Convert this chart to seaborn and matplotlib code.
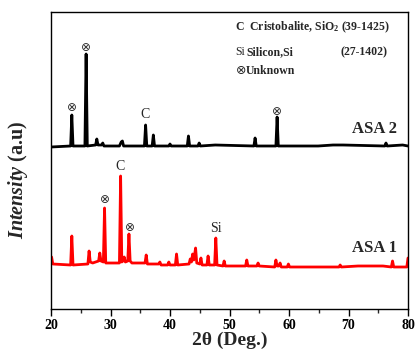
import matplotlib
matplotlib.use("Agg")
import matplotlib.pyplot as plt
import seaborn as sns
import pandas as pd

# ASA 2 (black) pattern vertices: 2theta, intensity (a.u., arbitrary offset scale)
asa2_x = [20.0, 23.3, 23.5, 23.7, 25.7, 25.9, 26.1, 27.5, 27.7, 27.9, 28.5, 28.7, 28.9,
          29.5, 31.5, 31.8, 32.0, 32.2, 35.7, 35.9, 36.1, 37.0, 37.2, 37.4, 39.8, 40.0,
          40.2, 42.9, 43.1, 43.3, 44.7, 44.9, 45.1, 47.6, 54.1, 54.3, 54.5, 57.8, 58.0,
          58.2, 64.9, 67.4, 69.1, 76.1, 76.3, 76.5, 79.1, 80.0]
asa2_y = [162, 163, 194, 163, 163, 255, 163, 164, 170, 164, 164, 166, 163,
          163, 163, 167, 168, 163, 163, 184, 163, 163, 174, 163, 163, 165,
          163, 163, 173, 163, 163, 166, 163, 164, 163, 171, 163, 163, 192,
          163, 163, 164, 164, 163, 166, 163, 164, 163]

# ASA 1 (red) pattern vertices
asa1_x = [20.0, 20.1, 20.3, 23.3, 23.5, 23.7, 26.2, 26.4, 26.6, 27.0, 28.0, 28.2, 28.4,
          28.8, 29.0, 29.2, 31.5, 31.7, 31.9, 32.1, 32.3, 32.5, 32.9, 33.1, 33.3, 33.6,
          35.8, 36.0, 36.2, 38.1, 38.3, 38.5, 39.6, 39.8, 40.0, 40.9, 41.1, 41.3, 43.2,
          43.4, 43.6, 43.8, 44.0, 44.3, 44.5, 45.0, 45.2, 45.4, 46.2, 46.4, 46.6, 47.5,
          47.7, 47.9, 48.9, 49.1, 49.3, 52.7, 52.9, 53.1, 54.6, 54.8, 55.0, 57.6, 57.8,
          58.0, 58.3, 58.5, 58.7, 59.7, 59.9, 60.1, 68.4, 68.6, 68.8, 71.6, 74.1, 75.8,
          77.2, 77.4, 77.6, 79.8, 80.0]
asa1_y = [49, 52, 45, 44, 73, 44, 45, 58, 47, 46, 48, 56, 48,
          47, 101, 46, 46, 133, 47, 48, 52, 47, 48, 75, 48, 46,
          46, 54, 45, 45, 47, 44, 44, 47, 44, 44, 55, 44, 45,
          50, 47, 55, 49, 61, 46, 45, 51, 44, 44, 53, 44, 44,
          71, 44, 43, 48, 43, 43, 49, 43, 43, 46, 43, 42, 49,
          43, 43, 46, 42, 42, 45, 42, 42, 44, 42, 43, 43, 43,
          42, 48, 42, 42, 51]

series_names = ["ASA 2", "ASA 1"]
series_colors = ["#000000", "#ff0000"]

# peak annotations: (symbol, 2theta, y)
asa2_marks = [("⊗", 23.5, 201), ("⊗", 25.9, 261), ("C", 35.8, 194), ("⊗", 58.0, 197)]
asa1_marks = [("⊗", 29.0, 109), ("C", 31.6, 142), ("⊗", 33.3, 81), ("Si", 47.7, 80)]

x_ticks = [20, 30, 40, 50, 60, 70, 80]

sns.set_style("white")
plt.rcParams["font.family"] = ["Liberation Serif", "DejaVu Sans"]
plt.rcParams["mathtext.fontset"] = "custom"
plt.rcParams["mathtext.rm"] = "Liberation Serif:bold"
plt.rcParams["mathtext.it"] = "Liberation Serif:italic:bold"
plt.rcParams["mathtext.bf"] = "Liberation Serif:bold"

df = pd.concat([
    pd.DataFrame({"theta": asa2_x, "I": asa2_y, "s": series_names[0]}),
    pd.DataFrame({"theta": asa1_x, "I": asa1_y, "s": series_names[1]}),
])

fig = plt.figure(figsize=(4.16, 3.54), dpi=100)
ax = fig.add_axes([51 / 416, 1 - 309 / 354, (408 - 51) / 416, (309 - 12) / 354])
sns.lineplot(data=df, x="theta", y="I", hue="s", palette=series_colors,
             hue_order=series_names, sort=False, estimator=None, lw=2.0,
             legend=False, ax=ax)

ax.set_xlim(20, 80)
ax.set_ylim(0, 297)
ax.set_xticks(x_ticks)
ax.set_xticks(range(25, 80, 10), minor=True)
ax.set_yticks([])
ax.tick_params(axis="x", which="major", direction="out", length=5, width=1,
               bottom=True, labelsize=10, pad=2, colors="black")
ax.tick_params(axis="x", which="minor", direction="out", length=3, width=1, bottom=True)
for lab in ax.get_xticklabels():
    lab.set_fontweight("bold")
for sp in ax.spines.values():
    sp.set_color("black")
    sp.set_linewidth(1.0)

ax.set_xlabel("2θ (Deg.)", fontsize=14, fontweight="bold", labelpad=0)
ax.set_ylabel(r"$\mathit{Intensity}$ (a.u)", fontsize=14.5, fontweight="bold")
ax.yaxis.set_label_coords(-0.06, 0.434)

for sym, xx, yy in asa2_marks + asa1_marks:
    fs = 8.5 if sym == "⊗" else 10
    ax.text(xx, yy, sym, ha="center", va="center", fontsize=fs,
            family=["Liberation Serif", "DejaVu Sans"])

ax.text(78.2, 180, "ASA 2", ha="right", va="center", fontsize=12, fontweight="bold")
ax.text(78.2, 61, "ASA 1", ha="right", va="center", fontsize=12, fontweight="bold")

ax.text(51.0, 282, r"C  Cristobalite, SiO$_2$ (39-1425)", ha="left", va="center",
        fontsize=8.5, fontweight="bold")
ax.text(51.0, 257, "Si", ha="left", va="center", fontsize=8.5)
ax.text(52.8, 257, "Silicon,Si", ha="left", va="center", fontsize=8.5, fontweight="bold")
ax.text(76.6, 257, "(27-1402)", ha="right", va="center", fontsize=8.5, fontweight="bold")
ax.text(51.0, 238, "⊗", ha="left", va="center", fontsize=9,
        family=["Liberation Serif", "DejaVu Sans"])
ax.text(52.7, 238, "Unknown", ha="left", va="center", fontsize=8.5, fontweight="bold")

fig.savefig("out.png", dpi=100)
